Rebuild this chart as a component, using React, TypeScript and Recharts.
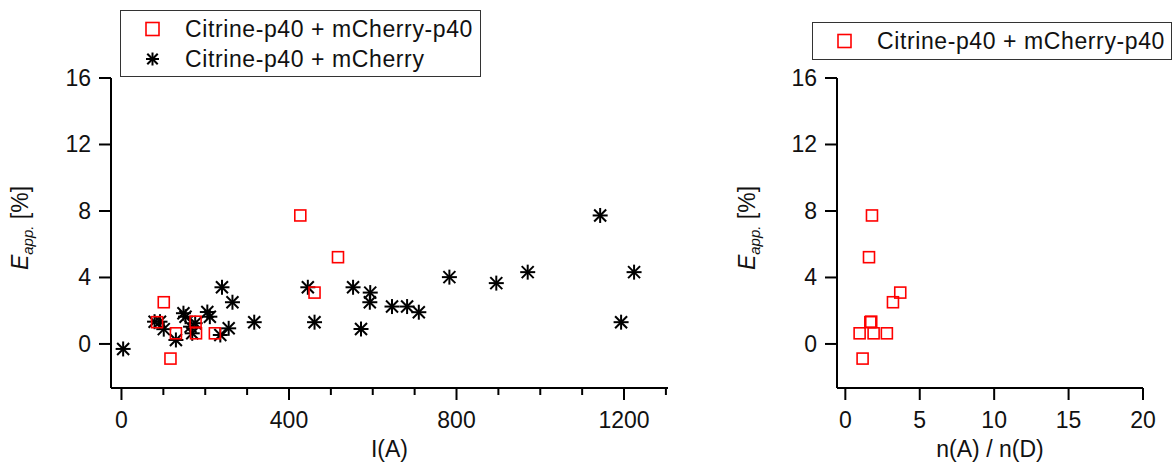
import { ScatterChart, Scatter, XAxis, YAxis, Legend } from 'recharts';

// E_app. vs I(A), Citrine-p40 + mCherry-p40 (red squares)
const intensityP40 = [85, 101, 117, 130, 177, 178, 223, 427, 461, 517];
const effP40 = [1.31, 2.51, -0.88, 0.64, 1.34, 0.64, 0.64, 7.73, 3.09, 5.22];
// same points vs n(A)/n(D)
const ratioP40 = [1.68, 3.2, 1.16, 0.96, 1.74, 1.9, 2.79, 1.79, 3.69, 1.59];

// Citrine-p40 + mCherry (asterisks)
const intensityFree = [
  4, 79, 92, 101, 130, 148, 153, 165, 169, 176, 205, 211, 236, 240, 256, 265, 317,
  445, 461, 553, 572, 594, 593, 646, 682, 710, 783, 895, 970, 1143, 1193, 1224,
];
const effFree = [
  -0.3, 1.34, 1.34, 0.89, 0.24, 1.85, 1.64, 1.04, 0.64, 1.25, 1.92, 1.64, 0.54, 3.41, 0.94, 2.51, 1.31,
  3.41, 1.31, 3.41, 0.9, 3.09, 2.51, 2.25, 2.25, 1.91, 4.02, 3.66, 4.32, 7.73, 1.31, 4.32,
];

const xTicksLeft = [0, 100, 200, 300, 400, 500, 600, 700, 800, 900, 1000, 1100, 1200, 1300];
const xTicksRight = [0, 5, 10, 15, 20];
const yTicks = [0, 4, 8, 12, 16];

const LABEL_P40 = 'Citrine-p40 + mCherry-p40';
const LABEL_FREE = 'Citrine-p40 + mCherry';

const FONT = '"Liberation Sans", Arial, sans-serif';
const FS = 23;
const RED = '#ff0000';

const p40Left = intensityP40.map((x, i) => ({ x, y: effP40[i] }));
const freeLeft = intensityFree.map((x, i) => ({ x, y: effFree[i] }));
const p40Right = ratioP40.map((x, i) => ({ x, y: effP40[i] }));

const Square = ({ cx, cy }: any) => (
  <rect x={cx - 5.5} y={cy - 5.5} width={11} height={11} fill="none" stroke={RED} strokeWidth={1.6} />
);

const Star = ({ cx, cy, r = 7.5 }: any) => {
  const d = r * 0.8;
  return (
    <g stroke="#000" strokeWidth={2}>
      <line x1={cx} y1={cy - r} x2={cx} y2={cy + r} />
      <line x1={cx - r} y1={cy} x2={cx + r} y2={cy} />
      <line x1={cx - d} y1={cy - d} x2={cx + d} y2={cy + d} />
      <line x1={cx - d} y1={cy + d} x2={cx + d} y2={cy - d} />
    </g>
  );
};

const Asterisk = ({ cx, cy }: any) => <Star cx={cx} cy={cy} />;

const LeftXTick = ({ x, y, payload }: any) => {
  const v = payload.value;
  const major = v % 400 === 0;
  return (
    <g>
      <line x1={x} x2={x} y1={y} y2={y + (major ? 12 : 7)} stroke="#000" strokeWidth={2} />
      {major && (
        <text x={x} y={y + 40} textAnchor="middle" fontSize={FS} fontFamily={FONT} fill="#111">
          {v}
        </text>
      )}
    </g>
  );
};

const RightXTick = ({ x, y, payload }: any) => (
  <g>
    <line x1={x} x2={x} y1={y} y2={y + 12} stroke="#000" strokeWidth={2} />
    <text x={x} y={y + 40} textAnchor="middle" fontSize={FS} fontFamily={FONT} fill="#111">
      {payload.value}
    </text>
  </g>
);

const YTick = ({ x, y, payload }: any) => (
  <g>
    <line x1={x - 12} x2={x} y1={y} y2={y} stroke="#000" strokeWidth={2} />
    <text x={x - 20} y={y} textAnchor="end" dominantBaseline="central" fontSize={FS} fontFamily={FONT} fill="#111">
      {payload.value}
    </text>
  </g>
);

const yLabel = (bx: number) => ({ viewBox }: any) => {
  const cy = 228;
  return (
    <text
      x={viewBox.x + bx}
      y={cy}
      transform={`rotate(-90 ${viewBox.x + bx} ${cy})`}
      textAnchor="middle"
      fontSize={FS}
      fontFamily={FONT}
      fill="#111"
    >
      <tspan fontStyle="italic">E</tspan>
      <tspan fontStyle="italic" fontSize={15} dy={5}>app.</tspan>
      <tspan dy={-5}> [%]</tspan>
    </text>
  );
};

const xLabel = (text: string) => ({ viewBox }: any) => (
  <text
    x={viewBox.x + viewBox.width / 2}
    y={viewBox.y + 69}
    textAnchor="middle"
    fontSize={FS}
    fontFamily={FONT}
    fill="#111"
  >
    {text}
  </text>
);

const LegendBox = ({ rows, width, height }: { rows: { label: string; kind: 'square' | 'star' }[]; width: number; height: number }) => (
  <div
    style={{
      width,
      height,
      boxSizing: 'border-box',
      border: '1.5px solid #333',
      background: '#fff',
      fontFamily: FONT,
      fontSize: FS,
      letterSpacing: 0.6,
      color: '#111',
      position: 'relative',
    }}
  >
    {rows.map((r, i) => (
      <div key={r.label} style={{ position: 'absolute', left: 0, top: 3 + i * 30, height: 30, display: 'flex', alignItems: 'center' }}>
        <svg width={64} height={30} style={{ display: 'block' }}>
          {r.kind === 'square' ? (
            <rect x={25} y={8.5} width={13} height={13} fill="none" stroke={RED} strokeWidth={1.6} />
          ) : (
            <Star cx={31.5} cy={15} r={6.5} />
          )}
        </svg>
        <span style={{ whiteSpace: 'nowrap' }}>{r.label}</span>
      </div>
    ))}
  </div>
);

export default function App() {
  return (
    <div style={{ position: 'absolute', left: 0, top: 0, width: 1173, height: 466, background: '#fff' }}>
      <div style={{ position: 'absolute', left: 0, top: 0 }}>
        <ScatterChart width={720} height={466} margin={{ top: 78, right: 52, bottom: 0, left: 0 }}>
          <XAxis
            type="number"
            dataKey="x"
            domain={[-25, 1305]}
            allowDataOverflow
            ticks={xTicksLeft}
            interval={0}
            tick={<LeftXTick />}
            tickLine={false}
            tickSize={0}
            tickMargin={0}
            height={78}
            axisLine={{ stroke: '#000', strokeWidth: 2 }}
            label={{ content: xLabel('I(A)') }}
          />
          <YAxis
            type="number"
            dataKey="y"
            domain={[-2.65, 16]}
            allowDataOverflow
            ticks={yTicks}
            interval={0}
            tick={<YTick />}
            tickLine={false}
            tickSize={0}
            tickMargin={0}
            width={111}
            axisLine={{ stroke: '#000', strokeWidth: 2 }}
            label={{ content: yLabel(28) }}
          />
          <Legend
            layout="vertical"
            align="center"
            verticalAlign="middle"
            wrapperStyle={{ position: 'absolute', left: 120, top: 10, width: 361, height: 67 }}
            content={() => (
              <LegendBox
                width={361}
                height={67}
                rows={[
                  { label: LABEL_P40, kind: 'square' },
                  { label: LABEL_FREE, kind: 'star' },
                ]}
              />
            )}
          />
          <Scatter name={LABEL_FREE} data={freeLeft} shape={<Asterisk />} isAnimationActive={false} />
          <Scatter name={LABEL_P40} data={p40Left} shape={<Square />} isAnimationActive={false} />
        </ScatterChart>
      </div>
      <div style={{ position: 'absolute', left: 720, top: 0 }}>
        <ScatterChart width={453} height={466} margin={{ top: 78, right: 30, bottom: 0, left: 0 }}>
          <XAxis
            type="number"
            dataKey="x"
            domain={[-0.56, 20]}
            allowDataOverflow
            ticks={xTicksRight}
            interval={0}
            tick={<RightXTick />}
            tickLine={false}
            tickSize={0}
            tickMargin={0}
            height={78}
            axisLine={{ stroke: '#000', strokeWidth: 2 }}
            label={{ content: xLabel('n(A) / n(D)') }}
          />
          <YAxis
            type="number"
            dataKey="y"
            domain={[-2.65, 16]}
            allowDataOverflow
            ticks={yTicks}
            interval={0}
            tick={<YTick />}
            tickLine={false}
            tickSize={0}
            tickMargin={0}
            width={117}
            axisLine={{ stroke: '#000', strokeWidth: 2 }}
            label={{ content: yLabel(35) }}
          />
          <Legend
            layout="vertical"
            align="center"
            verticalAlign="middle"
            wrapperStyle={{ position: 'absolute', left: 92, top: 22, width: 360, height: 38 }}
            content={() => (
              <LegendBox width={360} height={38} rows={[{ label: LABEL_P40, kind: 'square' }]} />
            )}
          />
          <Scatter name={LABEL_P40} data={p40Right} shape={<Square />} isAnimationActive={false} />
        </ScatterChart>
      </div>
    </div>
  );
}
